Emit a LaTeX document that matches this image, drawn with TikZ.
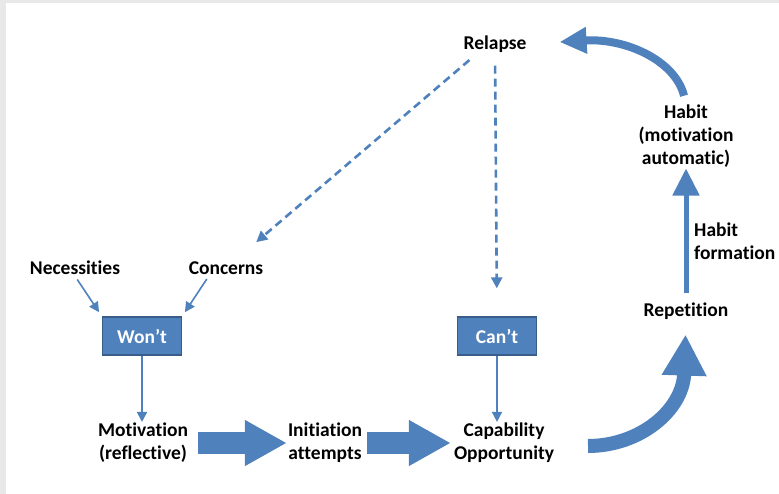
\documentclass[tikz,border=0pt]{standalone}
\usepackage{fontspec}
\setmainfont{Carlito}[RawFeature={-liga}]
\usetikzlibrary{positioning,arrows.meta}
\definecolor{cbblue}{HTML}{4F81BD}
\definecolor{cbedge}{HTML}{385D8A}
\tikzset{
  lbl/.style    ={font=\bfseries\fontsize{19.5}{23}\selectfont, align=center, inner sep=1pt},
  lbll/.style   ={lbl, align=left, anchor=west},
  stopbox/.style={rectangle, draw=cbedge, line width=1.3pt, fill=cbblue, text=white,
                  minimum width=79pt, minimum height=38pt,
                  font=\bfseries\fontsize{19.5}{22}\selectfont},
  arrthin/.style={draw=cbblue, line width=1.6pt, -{Triangle[length=10pt,width=10pt]}},
  arrdash/.style={draw=cbblue, line width=2.6pt, dash pattern=on 8pt off 5pt,
                  -{Triangle[length=11pt,width=11pt]}},
  arrfat/.style ={draw=cbblue, line width=22pt, -{Triangle[length=42pt,width=43pt]}},
  arrbend/.style={draw=cbblue, line width=14pt, -{Triangle[length=41pt,width=42pt]}},
  arrup/.style  ={draw=cbblue, line width=5pt, -{Triangle[length=27pt,width=26pt]}},
  arrback/.style={draw=cbblue, line width=8pt, -{Triangle[length=27pt,width=25pt]}},
}

\begin{document}
\begin{tikzpicture}[x=1pt, y=-1pt]
  % frame
  \fill[black!9] (0,0) rectangle (779,494);
  \fill[white] (6,3) rectangle (779,494);

  % labels
  \node[lbl] (rel)   at (495,44)  {Relapse};
  \node[lbl] (nec)   at (75,268)  {Necessities};
  \node[lbl] (conc)  at (226,268) {Concerns};
  \node[stopbox] (wont) at (142,336) {Won’t};
  \node[stopbox] (cant) at (497,336) {Can’t};
  \node[lbl] (motiv) at (143,443) {Motivation\\(reflective)};
  \node[lbl] (init)  at (325,443) {Initiation\\attempts};
  \node[lbl] (capop) at (504,443) {Capability\\Opportunity};
  \node[lbl] (rep)   at (686,311) {Repetition};
  \node[lbl] (habit) at (686,136) {Habit\\(motivation\\automatic)};
  \node[lbll] (hform) at (693,241) {Habit\\formation};
  \coordinate (cstart) at (588,446);

  % thin and dashed connectors
  \draw[arrthin, shorten <=4pt, shorten >=5pt] (nec.south) -- (wont.north west);
  \draw[arrthin, shorten <=4pt, shorten >=5pt] ([xshift=-17pt]conc.south) -- (wont.north east);
  \draw[arrthin] (wont) -- (wont |- motiv.north);
  \draw[arrthin] (cant) -- (cant |- capop.north);
  \draw[arrdash, shorten <=10pt, shorten >=28pt] ([xshift=-18pt]rel.south) -- (conc);
  \draw[arrdash, shorten <=12pt, shorten >=28pt] (rel.south) -- (cant.north);

  % block arrows
  \draw[arrfat, shorten <=9pt] (motiv.east) -- (init.west);
  \draw[arrfat, shorten <=4pt, shorten >=2pt] (init.east) -- (capop.west);
  \draw[arrbend, shorten >=14pt] (cstart) .. controls (640,446) and (683,410) .. (rep.south);
  \draw[arrup, shorten <=8pt] (rep.north) -- (habit.south);
  \draw[arrback, shorten <=8pt, shorten >=32pt] (habit.north) .. controls (675,60) and (625,38) .. (rel.east);
\end{tikzpicture}
\end{document}
